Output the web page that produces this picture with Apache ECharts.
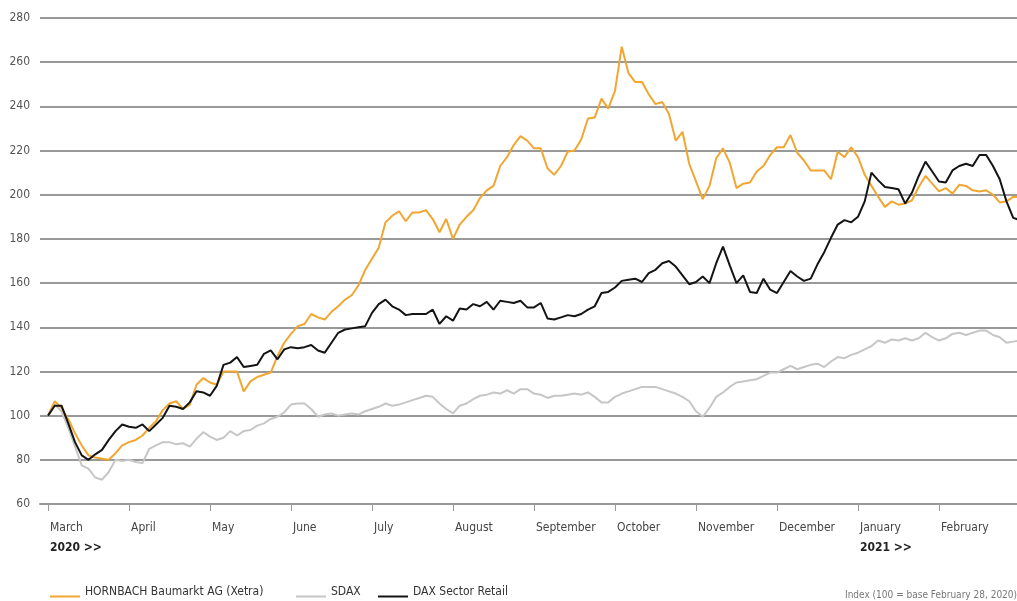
<!DOCTYPE html>
<html>
<head>
<meta charset="utf-8">
<script src="https://cdn.jsdelivr.net/npm/echarts@6/dist/echarts.min.js"></script>
<style>
html,body{margin:0;padding:0;background:#fff;}
#chart{width:1017px;height:601px;}
</style>
</head>
<body>
<div id="chart"></div>
<script>
// Month tick labels (index of first sample of each month) and year markers
const monthLabels = ['March','April','May','June','July','August','September','October','November','December','January','February'];
const yearMarks   = ['2020 >>','','','','','','','','','','2021 >>',''];
const monthStartIdx = [0,12,24,36,48,60,72,84,96,108,120,132];

// Sampled index values (base 100 = Feb 28, 2020), ~2.5 calendar days per sample
const hornbach = [
100,106.5,103.5,98.5,92,86.5,82,81,80.5,80,83,86.5,
88,89,91,94.5,97.5,102.5,105.5,106.5,103,105,114,117,
115,114,120,120,120,111,115.5,117.5,118.5,119.5,127,133,
137,140.5,141.5,146,144.5,143.5,147,149.5,152.5,154.5,159,166,
171,176,187.5,190.5,192.5,188,192,192,193,189,183,189,
180,186.5,190,193,198.5,202,204,213,217,222.5,226.5,224.5,
221,221,212,209,213,219.5,220,225,234.5,235,243.5,239,
247,267,255,251,251,245.5,241,242,236.5,224.5,228.5,214,
206,198,204,216.5,221,214.5,203,205,205.5,210.5,213,218,
221.5,221.5,227,219,215.5,211,211,211,207,219.5,217,221.5,
217,209,204,199,194.5,197,195.5,196,197.5,203.5,208.5,205,
201.5,203,200.5,204.5,204,202,201.5,202,200,196.5,197,199,
199];

const sdax = [
100,105,102,94.5,86,77.5,76,72,71,74.5,80,79.5,
80,79,78.5,85,86.5,88,88,87,87.5,86,89.5,92.5,
90.5,89,90,93,91,93,93.5,95.5,96.5,98.5,99.5,101.5,
105,105.5,105.5,103,99.5,100.5,101,100,100.5,101,100.5,102,
103,104,105.5,104.5,105,106,107,108,109,108.5,105.5,103,
101,104.5,105.5,107.5,109,109.5,110.5,110,111.5,110,112,112,
110,109.5,108,109,109,109.5,110,109.5,110.5,108.5,106,106,
108.5,110,111,112,113,113,113,112,111,110,108.5,106.5,
102,99.5,103.5,108.5,110.5,113,115,115.5,116,116.5,118,119.5,
119.5,121,122.5,121,122,123,123.5,122,124.5,126.5,126,127.5,
128.5,130,131.5,134,133,134.5,134,135,134,135,137.5,135.5,
134,135,137,137.5,136.5,137.5,138.5,138.5,136.5,135.5,133,133.5,
134];

const daxRetail = [
100,104.5,104.5,96.5,88,82,80,82.5,84.5,89,93,96,
95,94.5,96,93,96,99,104.5,104,103,106,111,110.5,
109,113.5,123,124,126.5,122,122.5,123,128,129.5,125.5,130,
131,130.5,131,132,129.5,128.5,133,137.5,139,139.5,140,140.5,
146.5,150.5,152.5,149.5,148,145.5,146,146,146,148,141.5,145,
143,148.5,148,150.5,149.5,151.5,148,152,151.5,151,152,149,
149,151,144,143.5,144.5,145.5,145,146,148,149.5,155.5,156,
158,161,161.5,162,160.5,164.5,166,169,170,167.5,163.5,159.5,
160.5,163,160,169,176.5,168,160,163.5,156,155.5,162,157,
155.5,160.5,165.5,163,161,162,168.5,174,180.5,186.5,188.5,187.5,
190,197,210,206.5,203.5,203,202.5,196,201,208.5,215,210.5,
206,205.5,211,213,214,213,218,218,213,207,197,189.5,
188.5];

const seriesNames = ['HORNBACH Baumarkt AG (Xetra)','SDAX','DAX Sector Retail'];
const seriesColors = ['#f2a632','#c6c6c6','#141414'];

const FONT = "'DejaVu Sans Condensed','Liberation Sans Narrow',sans-serif";
const toPairs = arr => arr.map((v,i)=>[i,v]);

const chart = echarts.init(document.getElementById('chart'), null, {renderer:'canvas'});
const lineIcon = 'path://M0,0L0.05,0L0.05,0.05Z M0,9L30,9L30,11L0,11Z';

function legendFor(idx, left){
  return {
    left:left, top:586, data:[seriesNames[idx]],
    icon: lineIcon, itemWidth:30, itemHeight:11, symbolKeepAspect:false,
    selectedMode:false, padding:0,
    textStyle:{fontFamily:FONT, fontSize:12, color:'#333'}
  };
}

chart.setOption({
  animation:false,
  backgroundColor:'#fff',
  grid:{left:40, right:0, top:18, bottom:97},
  xAxis:{
    type:'value', min:-1.185, max:143.56,
    splitLine:{show:false},
    axisLine:{show:true, lineStyle:{color:'#999', width:2}},
    axisTick:{show:true, customValues:monthStartIdx, length:7, lineStyle:{color:'#999', width:1}},
    axisLabel:{
      customValues:monthStartIdx, align:'left', margin:17,
      formatter:function(v){
        const k = monthStartIdx.indexOf(Math.round(v));
        if(k<0) return '';
        return yearMarks[k] ? '{m|'+monthLabels[k]+'}\n{y|'+yearMarks[k]+'}' : '{m|'+monthLabels[k]+'}';
      },
      rich:{
        m:{fontFamily:FONT, fontSize:12, color:'#444', lineHeight:14, padding:[0,0,0,2]},
        y:{fontFamily:FONT, fontSize:12, fontWeight:'bold', color:'#222', lineHeight:26, padding:[0,0,0,2]}
      }
    }
  },
  yAxis:{
    type:'value', min:60, max:280, interval:20,
    axisLine:{show:false}, axisTick:{show:false},
    splitLine:{show:true, lineStyle:{color:'#999', width:2}},
    axisLabel:{fontFamily:FONT, fontSize:12, color:'#555', margin:10}
  },
  legend:[legendFor(0,50), legendFor(1,296), legendFor(2,378)],
  graphic:[{
    type:'text', left:845, top:590,
    style:{text:'Index (100 = base February 28, 2020)', font:"10px 'DejaVu Sans Condensed', sans-serif", fill:'#777'}
  }],
  series:[
    {name:seriesNames[1], type:'line', data:toPairs(sdax), showSymbol:false, color:seriesColors[1], lineStyle:{width:2, color:seriesColors[1]}, z:2},
    {name:seriesNames[0], type:'line', data:toPairs(hornbach), showSymbol:false, color:seriesColors[0], lineStyle:{width:2, color:seriesColors[0]}, z:3},
    {name:seriesNames[2], type:'line', data:toPairs(daxRetail), showSymbol:false, color:seriesColors[2], lineStyle:{width:2, color:seriesColors[2]}, z:4}
  ]
});
</script>
</body>
</html>
